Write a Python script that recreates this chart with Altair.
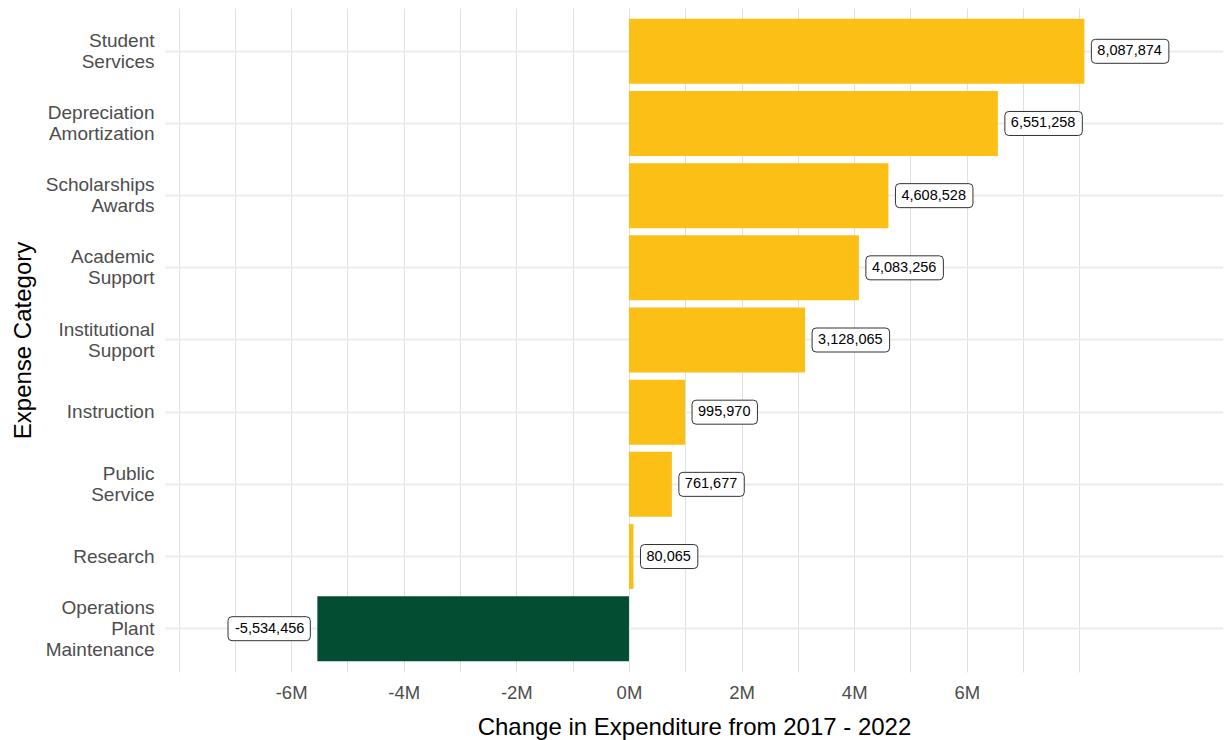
import altair as alt
import pandas as pd

categories = [
    "Student Services",
    "Depreciation Amortization",
    "Scholarships Awards",
    "Academic Support",
    "Institutional Support",
    "Instruction",
    "Public Service",
    "Research",
    "Operations Plant Maintenance",
]
values = [8087874, 6551258, 4608528, 4083256, 3128065, 995970, 761677, 80065, -5534456]
labels = [f"{v:,}" for v in values]
grid_ticks = [i * 1000000 for i in range(-8, 9)]

df = pd.DataFrame({"category": categories, "value": values, "label": labels})

FONT = "Liberation Sans"
YELLOW = "#FCBF16"
GREEN = "#034E33"

x_scale = alt.Scale(domain=[-8240000, 10550000], nice=False, zero=False)
y_scale = alt.Scale(paddingInner=0.1, paddingOuter=0.15)

x_axis = alt.Axis(
    values=grid_ticks,
    labelExpr="(datum.value >= -6000000 && datum.value <= 6000000 && datum.value % 2000000 == 0) ? (datum.value / 1000000) + 'M' : ''",
    grid=True, gridColor="#e0e0e0", gridWidth=1,
    ticks=False, domain=False,
    labelFontSize=18.5, labelColor="#4d4d4d", labelPadding=11, labelFont=FONT,
    title="Change in Expenditure from 2017 - 2022",
    titleFontSize=24, titleFontWeight="normal", titleColor="black", titleFont=FONT,
    titlePadding=14,
)
y_axis = alt.Axis(
    grid=True, gridColor="#ebebeb", gridWidth=2, bandPosition=0.5,
    ticks=False, domain=False,
    labelExpr="split(datum.label, ' ')",
    labelOffset={
        "condition": [
            {"test": "length(split(datum.value, ' ')) == 1", "value": 0},
            {"test": "length(split(datum.value, ' ')) == 3", "value": -21},
        ],
        "value": -10.5,
    },
    labelFontSize=19, labelColor="#4d4d4d", labelPadding=11, labelLineHeight=21,
    labelFont=FONT, labelAlign="right",
    title="Expense Category",
    titleFontSize=24, titleFontWeight="normal", titleColor="black", titleFont=FONT,
    titlePadding=10,
)

base = alt.Chart(df)

bars = base.mark_bar().encode(
    x=alt.X("value:Q", scale=x_scale, axis=x_axis),
    y=alt.Y("category:N", sort=categories, scale=y_scale, axis=y_axis),
    color=alt.condition(alt.datum.value >= 0, alt.value(YELLOW), alt.value(GREEN)),
)

box = base.transform_calculate(
    nd="length(replace(datum.label, regexp('[^0-9]', 'g'), ''))",
    nc="length(replace(datum.label, regexp('[^,]', 'g'), ''))",
    nm="indexof(datum.label, '-') >= 0 ? 1 : 0",
).transform_calculate(
    bw="14.5 * (0.556 * datum.nd + 0.278 * datum.nc + 0.333 * datum.nm) + 13",
).transform_calculate(
    x0="datum.value >= 0 ? 7 : -7 - datum.bw",
).transform_calculate(
    x1="datum.x0 + datum.bw",
).transform_calculate(
    path="'M' + (datum.x0 + 4) + ',-12 L' + (datum.x1 - 4) + ',-12 Q' + datum.x1 + ',-12 ' + datum.x1 + ',-8 L' + datum.x1 + ',8 Q' + datum.x1 + ',12 ' + (datum.x1 - 4) + ',12 L' + (datum.x0 + 4) + ',12 Q' + datum.x0 + ',12 ' + datum.x0 + ',8 L' + datum.x0 + ',-8 Q' + datum.x0 + ',-12 ' + (datum.x0 + 4) + ',-12 Z'"
).mark_point(filled=True, fill="white", stroke="#333333", strokeWidth=1, opacity=1).encode(
    x=alt.X("value:Q", scale=x_scale),
    y=alt.Y("category:N", sort=categories, scale=y_scale),
    shape=alt.Shape("path:N", scale=None, legend=None),
    size=alt.value(4),
)

text_pos = base.transform_filter(alt.datum.value >= 0).mark_text(
    align="left", baseline="middle", dx=13, fontSize=14.5, font=FONT, color="black"
).encode(
    x=alt.X("value:Q", scale=x_scale),
    y=alt.Y("category:N", sort=categories, scale=y_scale),
    text="label:N",
)
text_neg = base.transform_filter(alt.datum.value < 0).mark_text(
    align="right", baseline="middle", dx=-13, fontSize=14.5, font=FONT, color="black"
).encode(
    x=alt.X("value:Q", scale=x_scale),
    y=alt.Y("category:N", sort=categories, scale=y_scale),
    text="label:N",
)

chart = alt.layer(bars, box, text_pos, text_neg).properties(
    width=1058,
    height=664,
    autosize=alt.AutoSizeParams(type="none"),
    padding={"left": 157, "top": 0, "right": 0, "bottom": 72},
    background="white",
).configure_view(stroke=None)

chart.save("out.html", embed_options={"renderer": "svg", "actions": False})
